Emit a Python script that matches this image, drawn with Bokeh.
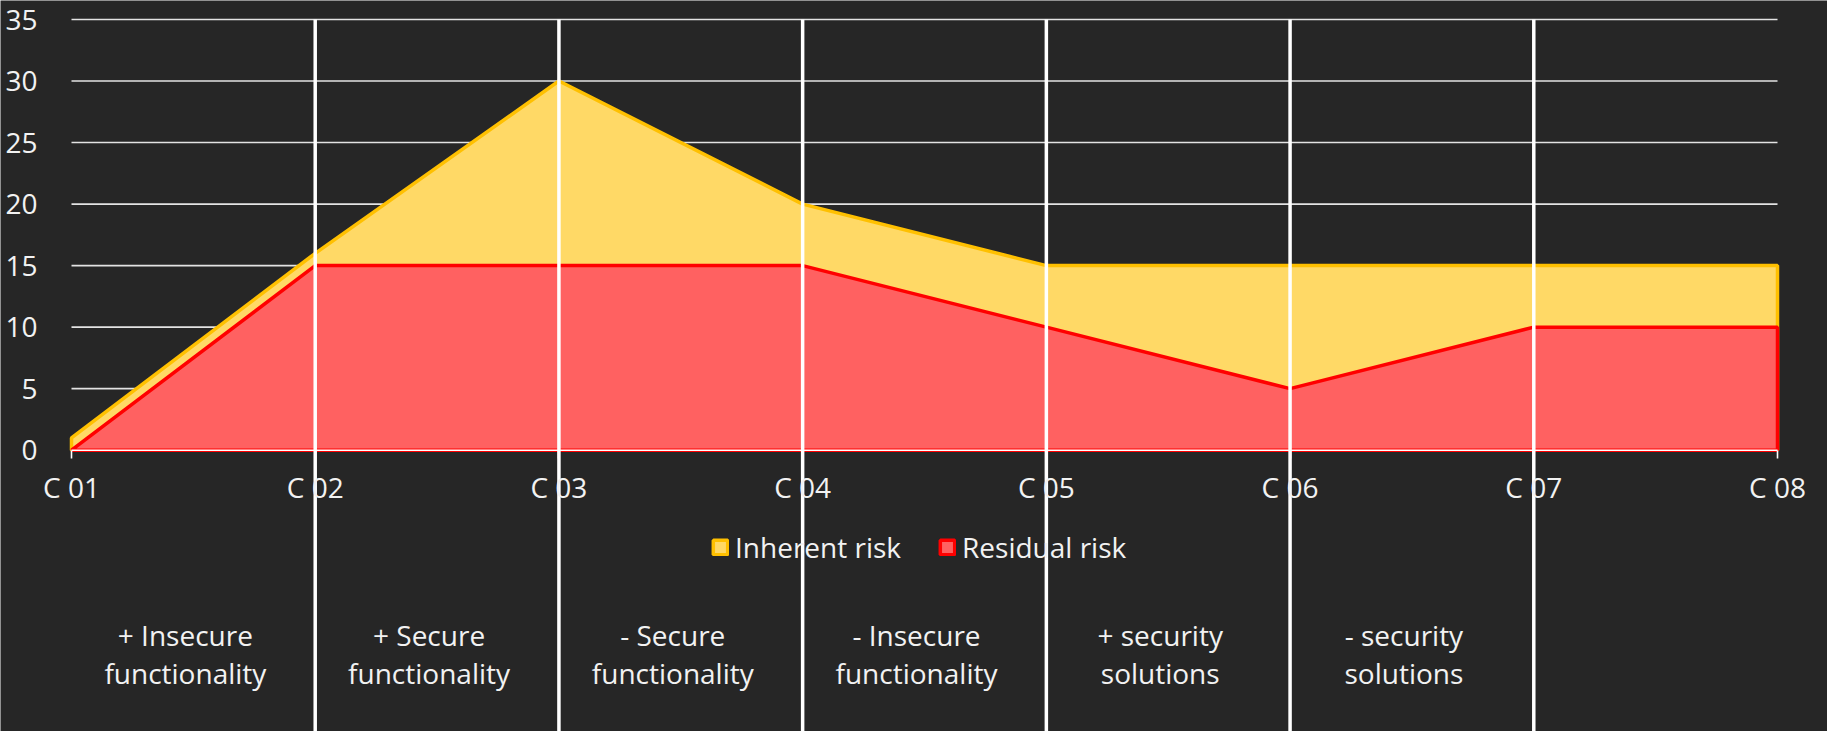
from bokeh.plotting import figure
from bokeh.models import Range1d, FixedTicker, Legend, LegendItem
from bokeh.core.properties import value
from bokeh.embed import file_html
from bokeh.resources import INLINE

# ---- data ----
categories = ["C 01", "C 02", "C 03", "C 04", "C 05", "C 06", "C 07", "C 08"]
inherent_risk = [1, 16, 30, 20, 15, 15, 15, 15]
residual_risk = [0, 15, 15, 15, 10, 5, 10, 10]
y_ticks = [0, 5, 10, 15, 20, 25, 30, 35]
phase_labels = [
    "+ Insecure\nfunctionality",
    "+ Secure\nfunctionality",
    "- Secure\nfunctionality",
    "- Insecure\nfunctionality",
    "+ security\nsolutions",
    "- security\nsolutions",
]

# ---- style / layout ----
W, H = 1827, 731
BG = "#262626"
TEXT = "#f2f2f2"
GRID = "#e3e3e3"
FONT = "Open Sans"

n = len(categories)
xs_idx = list(range(n))

# pixel layout of the chart area inside the full-size frame
PLOT_L, PLOT_R = 71, 1777       # x of first / last category
PLOT_T, PLOT_B = 19, 449.7      # y of 35 / 0
y_max = y_ticks[-1]
ux = (PLOT_R - PLOT_L) / (n - 1)
uy = (PLOT_B - PLOT_T) / y_max
x_lo = -PLOT_L / ux
x_hi = (n - 1) + (W - PLOT_R) / ux
y_hi = y_max + PLOT_T / uy
y_lo = -(H - PLOT_B) / uy

p = figure(width=W, height=H, output_backend="svg", toolbar_location=None,
           x_range=Range1d(x_lo, x_hi), y_range=Range1d(y_lo, y_hi),
           min_border=0, background_fill_color=BG, border_fill_color=BG,
           outline_line_color=None)
p.grid.visible = False

# horizontal gridlines only across the data span
p.segment(x0=[0] * len(y_ticks), y0=y_ticks, x1=[n - 1] * len(y_ticks), y1=y_ticks,
          line_color=GRID, line_width=1.6)

# areas (overlapping, not stacked)
px = xs_idx + [n - 1, 0]
r_inh = p.patch(px, inherent_risk + [0, 0], fill_color="#FFD966",
                line_color="#FFC000", line_width=3.5)
r_res = p.patch(px, residual_risk + [0, 0], fill_color="#FF6161",
                line_color="#FF0000", line_width=3.5)

# baseline
p.segment(x0=[0], y0=[0], x1=[n - 1], y1=[0], line_color="#ffffff", line_width=1.6)

# vertical separators between phases
sep_x = xs_idx[1:-1]
p.segment(x0=sep_x, y0=[y_max] * len(sep_x), x1=sep_x, y1=[y_lo] * len(sep_x),
          line_color="#ffffff", line_width=3.5)

# phase labels
p.text(x=[i + 0.5 for i in range(len(phase_labels))],
       y=[-16.55] * len(phase_labels), text=phase_labels,
       text_font=value(FONT), text_font_size="28px", text_color=TEXT,
       text_align="center", text_baseline="middle", text_line_height=1.0,
       x_offset=-8)

# x axis at y = 0
xa = p.xaxis[0]
xa.fixed_location = 0
xa.ticker = FixedTicker(ticks=xs_idx)
xa.major_label_overrides = {i: c for i, c in enumerate(categories)}
xa.axis_line_color = None
xa.major_tick_line_color = "#ffffff"
xa.major_tick_line_width = 1.6
xa.major_tick_out = 8
xa.major_tick_in = 0
xa.minor_tick_line_color = None
xa.major_label_standoff = 10
xa.major_label_text_font = FONT
xa.major_label_text_font_size = "28px"
xa.major_label_text_color = TEXT

# y axis at x = 0
ya = p.yaxis[0]
ya.fixed_location = 0
ya.ticker = FixedTicker(ticks=y_ticks)
ya.axis_line_color = None
ya.major_tick_line_color = None
ya.minor_tick_line_color = None
ya.major_label_standoff = 28
ya.major_label_text_font = FONT
ya.major_label_text_font_size = "28px"
ya.major_label_text_color = TEXT

legend = Legend(items=[LegendItem(label="Inherent risk", renderers=[r_inh]),
                       LegendItem(label="Residual risk", renderers=[r_res])],
                orientation="horizontal", location=(711, 165),
                background_fill_alpha=0, border_line_color=None,
                label_text_font=FONT, label_text_font_size="28px",
                label_text_color=TEXT, glyph_width=18, glyph_height=18,
                label_standoff=6, spacing=37, padding=0, margin=0)
p.add_layout(legend, "center")

open("out.html", "w").write(file_html(p, INLINE))
